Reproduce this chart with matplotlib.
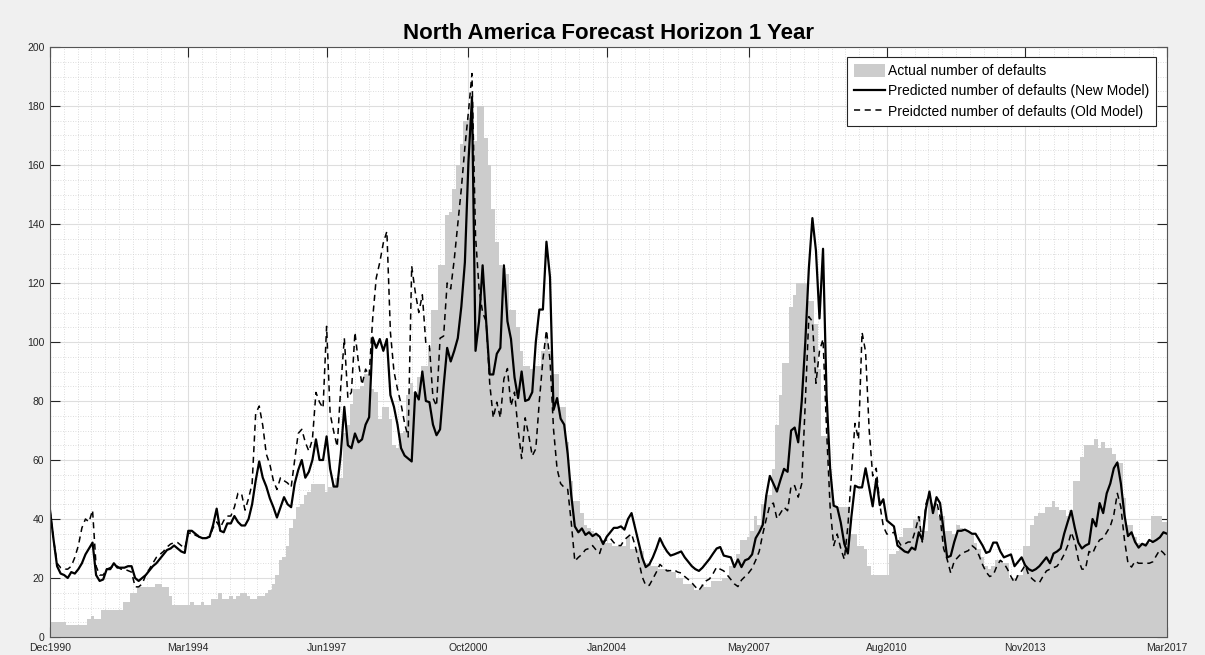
import numpy as np
import pandas as pd
import matplotlib
matplotlib.use("Agg")
import matplotlib.pyplot as plt
from matplotlib.ticker import MultipleLocator, FixedLocator

plt.rcParams['font.family'] = ['Liberation Sans', 'DejaVu Sans']

# monthly series, Dec1990 .. Mar2017
start_month = "Dec1990"

actual = [5, 5, 5, 5, 5, 4, 4, 4, 4, 4,
          4, 6, 7, 6, 6, 9, 9, 9, 9, 9,
          9, 12, 12, 15, 15, 17, 17, 17, 17, 17,
          18, 18, 17, 17, 14, 11, 11, 11, 11, 11,
          12, 11, 11, 12, 11, 11, 13, 13, 15, 13,
          13, 14, 13, 14, 15, 15, 14, 13, 13, 14,
          14, 15, 16, 18, 21, 26, 27, 31, 37, 40,
          44, 45, 48, 49, 52, 52, 52, 52, 49, 51,
          52, 54, 54, 69, 72, 79, 84, 84, 85, 89,
          89, 84, 83, 74, 78, 78, 74, 65, 64, 69,
          70, 82, 86, 83, 88, 92, 92, 98, 111, 111,
          126, 126, 143, 144, 152, 160, 167, 175, 176, 172,
          168, 180, 180, 169, 160, 145, 134, 126, 125, 123,
          111, 111, 105, 97, 92, 92, 91, 92, 92, 97,
          103, 97, 89, 89, 78, 78, 66, 53, 46, 46,
          42, 38, 37, 36, 35, 33, 33, 32, 32, 31,
          31, 31, 31, 34, 30, 30, 30, 29, 25, 25,
          24, 24, 23, 23, 23, 22, 22, 20, 20, 18,
          18, 18, 16, 16, 18, 17, 17, 19, 19, 19,
          20, 20, 24, 24, 28, 33, 33, 34, 36, 41,
          38, 45, 48, 48, 57, 72, 82, 93, 93, 112,
          116, 120, 120, 120, 114, 114, 106, 91, 68, 68,
          57, 46, 44, 44, 44, 44, 35, 35, 31, 31,
          30, 24, 21, 21, 21, 21, 21, 28, 28, 29,
          34, 37, 37, 37, 40, 41, 36, 36, 47, 44,
          44, 41, 41, 36, 36, 35, 38, 37, 36, 36,
          35, 32, 30, 27, 24, 23, 24, 26, 26, 25,
          25, 20, 20, 21, 21, 31, 31, 38, 41, 42,
          42, 44, 44, 46, 44, 43, 43, 41, 43, 53,
          53, 61, 65, 65, 65, 67, 64, 66, 64, 64,
          62, 59, 59, 47, 38, 38, 34, 32, 32, 32,
          32, 41, 41, 41, 39, 39]

new_model = [43, 33, 24, 21.5, 21, 20, 22, 21.5, 23, 25,
             28, 30, 32, 21, 19, 19.5, 23, 23, 25, 23.5,
             23.5, 23.5, 24, 24, 20, 19, 20, 21, 22.5, 24,
             25, 26.5, 28, 29.5, 30, 31, 30, 29, 28.5, 36,
             36, 35, 34, 33.5, 33.5, 34, 38, 43.5, 36, 35.5,
             38.5, 38.5, 41, 39, 37.8, 37.8, 40, 45, 53, 59.5,
             54, 51, 47, 44, 40.5, 44, 47.4, 45, 44, 52,
             56.6, 60, 54, 56, 60, 67, 60, 60, 68, 57,
             51, 51, 62, 78, 65, 64, 69, 66, 67, 72,
             74.5, 101.5, 98, 101, 97, 101, 82, 78, 72, 64,
             61.5, 60.5, 59.5, 83, 80.5, 90, 80, 79.6, 72, 68.4,
             70.4, 85, 98, 93.4, 97, 101.3, 112, 127, 161, 183,
             97, 107, 126, 107, 89, 89, 96, 98, 126, 107,
             101, 88, 81, 90, 80, 80.5, 83, 100, 111, 111,
             134, 122, 77, 81, 74, 72, 62, 48, 37.5, 35.5,
             36.8, 34.6, 35.5, 34.2, 35, 34, 31.5, 34, 35.5, 37,
             37, 37.5, 36.4, 40, 42, 37, 32, 27, 23.7, 24.6,
             27, 30, 33.5, 31, 29, 27.6, 28, 28.5, 29, 27,
             25.5, 24, 23, 22.4, 23.5, 25, 26.5, 28.3, 30, 30.5,
             27.6, 27.3, 27, 23.7, 26.3, 23.7, 26, 26.5, 28, 33.5,
             35.5, 38, 48, 54.6, 52, 49.3, 53.3, 57, 56, 70,
             71, 66, 80, 100, 125, 142, 131, 108, 131.6, 82,
             57, 44.5, 44, 38.8, 31.6, 28.3, 40.8, 51.3, 50.7, 50.7,
             57.2, 50.7, 44.3, 53.6, 44.7, 46.7, 39.5, 38.5, 37.5, 31,
             30, 29, 28.6, 30.3, 29.6, 35.5, 33, 43.4, 49.3, 42,
             47.4, 45.4, 36.2, 27, 27.5, 32.2, 36, 36, 36.4, 35.8,
             35, 35, 33, 31, 28.5, 29, 32, 32, 29, 27,
             27.5, 28, 24, 25.5, 27, 24.3, 23, 22.4, 23, 24,
             25.5, 27, 25, 28.3, 29, 30, 35, 39, 42.8, 37,
             32, 30, 31, 31.6, 40, 37.5, 45.4, 42, 48.7, 52,
             57.2, 59.2, 52, 41.4, 34.2, 35.5, 32.2, 30.3, 31.6, 31,
             32.9, 32.2, 32.9, 33.8, 35.5, 35]

old_model = [43, 33, 25, 23.5, 23, 23, 24, 27, 31, 37,
             40, 39, 43, 24, 21, 21, 23, 23.5, 24, 24,
             23, 23, 22.5, 22, 17, 17, 18, 21, 23, 25,
             27, 28, 29, 30.5, 31.5, 32, 32, 31, 30, 35,
             35.5, 34.5, 34, 33.5, 33.5, 34, 37, 39, 37, 39.5,
             41, 41, 44, 48.7, 48.7, 43, 47, 52, 75.7, 78.3,
             71.7, 62, 58.5, 53, 50, 54, 53, 52.2, 50.7, 60,
             69, 70.4, 66, 63, 67, 82.9, 79.6, 77.6, 105.3, 75.7,
             69.7, 64.5, 84.9, 101.3, 81, 83, 103.3, 92.8, 85.5, 90.8,
             88.6, 108, 121.7, 127, 133.6, 137.5, 103.3, 90, 84, 79,
             72.4, 67.8, 125.7, 117, 110, 116, 99.3, 98.7, 81, 78.3,
             101.3, 102, 120, 118, 128, 140, 152, 166, 178, 191,
             136, 118, 110, 107, 86, 74.3, 79.6, 74.3, 87.5, 91,
             78.3, 83, 70.4, 60.5, 74.3, 68.4, 61.4, 63.8, 80, 94,
             104, 94, 70.4, 57, 52, 50.7, 50, 38.8, 25.7, 27,
             28, 29.6, 30, 31, 29.5, 28.3, 32.2, 33, 33.5, 32,
             31, 31, 33, 34, 35, 31, 26, 20.4, 17.5, 17.5,
             19.7, 22, 24.6, 23.5, 22.4, 22.5, 22.8, 22, 21.7, 20.5,
             19.5, 18.4, 17, 15.8, 17.5, 19, 19.7, 21.5, 23.7, 23,
             22.4, 21, 19.5, 18, 17.1, 19.3, 20.5, 21.7, 23.3, 26,
             29, 34.9, 40, 44.7, 45.4, 40.1, 42, 44, 42.8, 51.3,
             51.3, 47.4, 52, 79.6, 108.6, 107, 86, 97, 101, 70,
             44, 31, 34.9, 30, 26.3, 37.5, 55, 72.4, 67, 103.3,
             96.7, 70.4, 54.6, 57.2, 45, 37.5, 34.9, 35, 35.5, 33,
             31, 31.5, 32.2, 32.2, 36, 40.8, 32.2, 45, 48.7, 42.8,
             46, 40.8, 30, 26.3, 21.7, 25.7, 27, 28.3, 28.8, 29.3,
             31, 30, 27.6, 24.5, 22, 20.5, 21, 24, 26, 25,
             23, 20.5, 18.4, 21, 22.4, 24.3, 21, 19.7, 18.7, 18.4,
             20.5, 22.4, 23, 23.5, 24, 25.7, 28, 31, 35.5, 32.2,
             26.3, 23, 23, 29, 28.3, 31, 32.9, 33.5, 35.5, 37.5,
             41.4, 48.7, 44, 33, 25, 23.7, 25.7, 25, 25, 25,
             25, 25.5, 27.6, 29.6, 28.5, 27]

tick_labels = ['Dec1990', 'Mar1994', 'Jun1997', 'Oct2000', 'Jan2004',
               'May2007', 'Aug2010', 'Nov2013', 'Mar2017']

title = 'North America Forecast Horizon 1 Year'
labels = ['Actual number of defaults',
          'Predicted number of defaults (New Model)',
          'Preidcted number of defaults (Old Model)']

# month index of each tick label, counted from the first month
p0 = pd.Period(pd.to_datetime(start_month, format='%b%Y'), freq='M')
tick_pos = [(pd.Period(pd.to_datetime(t, format='%b%Y'), freq='M') - p0).n
            for t in tick_labels]

x = np.arange(len(actual))

fig = plt.figure(figsize=(12.05, 6.55), dpi=100, facecolor='#f0f0f0')
ax = fig.add_axes([50 / 1205, 1 - 637 / 655, (1167 - 50) / 1205, (637 - 47) / 655])
ax.set_facecolor('white')

bars = ax.bar(x, actual, width=1.0, color='#cccccc', linewidth=0)
l_new, = ax.plot(x, new_model, color='black', lw=1.6)
l_old, = ax.plot(x, old_model, color='black', lw=1.1, ls=(0, (4, 3)))

ax.set_xlim(tick_pos[0], tick_pos[-1])
ax.set_ylim(0, 200)

ax.set_xticks(tick_pos, tick_labels)
ax.set_yticks(np.arange(0, 201, 20))
minor_x = []
for a, b in zip(tick_pos[:-1], tick_pos[1:]):
    minor_x += list(np.linspace(a, b, 11)[1:-1])
ax.xaxis.set_minor_locator(FixedLocator(minor_x))
ax.yaxis.set_minor_locator(MultipleLocator(5))

ax.set_axisbelow(True)
ax.grid(which='major', color='#dedede', lw=0.8)
ax.grid(which='minor', color='#d2d2d2', lw=0.6, ls=(0, (1, 2)))

ax.tick_params(which='major', direction='in', length=7, width=0.8,
               top=True, right=True, labelsize=7.5, color='#262626',
               labelcolor='#262626', pad=4)
ax.tick_params(which='minor', length=0)
for s in ax.spines.values():
    s.set_color('#555555')
    s.set_linewidth(0.8)

ax.set_title(title, fontsize=16, fontweight='bold', pad=6)

leg = ax.legend([bars, l_new, l_old], labels,
                loc='upper right', bbox_to_anchor=(0.990, 0.983), borderaxespad=0,
                fontsize=10, frameon=True, fancybox=False, edgecolor='#262626',
                framealpha=1, handlelength=2.2, handleheight=1.08,
                handletextpad=0.2, labelspacing=0.42, borderpad=0.5)
leg.get_frame().set_linewidth(0.8)

fig.savefig('out.png', dpi=100, facecolor=fig.get_facecolor())
